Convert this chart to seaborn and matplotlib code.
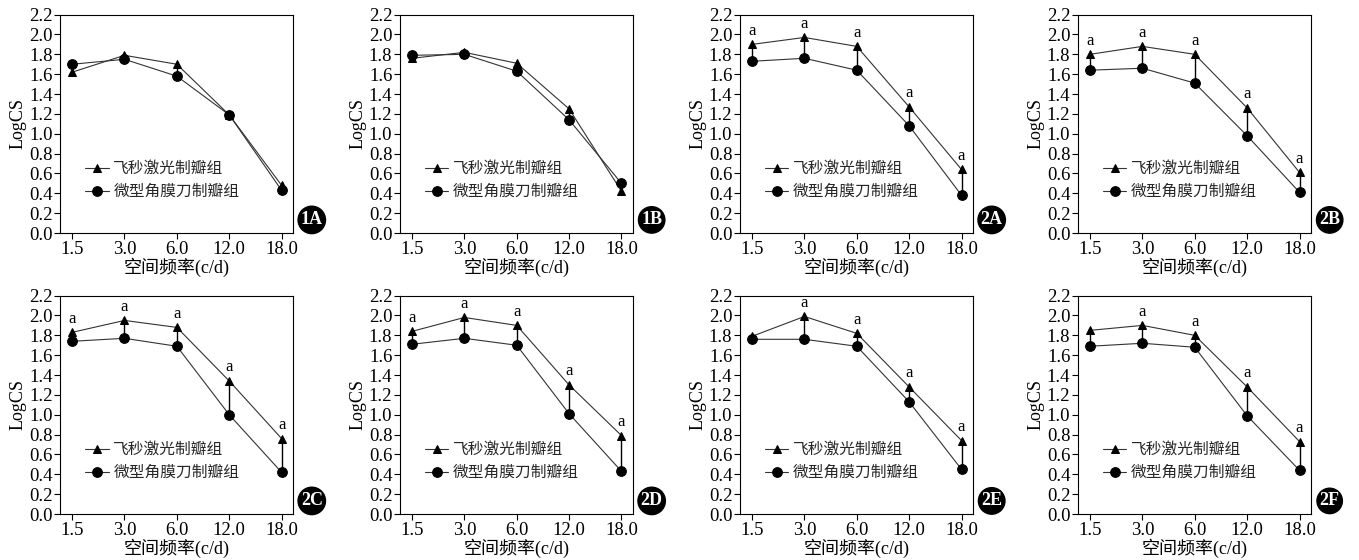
import numpy as np
import pandas as pd
import matplotlib
matplotlib.use("Agg")
import matplotlib.pyplot as plt
import seaborn as sns

sns.set_theme(style="white")
plt.rcParams['font.family'] = ['Liberation Serif', 'Noto Sans CJK SC', 'DejaVu Sans']
plt.rcParams['axes.unicode_minus'] = False

freqs = ["1.5", "3.0", "6.0", "12.0", "18.0"]
yticks = [0.0, 0.2, 0.4, 0.6, 0.8, 1.0, 1.2, 1.4, 1.6, 1.8, 2.0, 2.2]
series_names = ["飞秒激光制瓣组", "微型角膜刀制瓣组"]
panel_ids = ["1A", "1B", "2A", "2B", "2C", "2D", "2E", "2F"]

laser_1A = [1.62, 1.79, 1.70, 1.19, 0.48]
blade_1A = [1.70, 1.75, 1.58, 1.19, 0.43]
laser_1B = [1.76, 1.82, 1.71, 1.25, 0.42]
blade_1B = [1.79, 1.80, 1.63, 1.14, 0.50]
laser_2A = [1.90, 1.97, 1.88, 1.27, 0.64]
blade_2A = [1.73, 1.76, 1.64, 1.08, 0.38]
laser_2B = [1.80, 1.88, 1.80, 1.26, 0.61]
blade_2B = [1.64, 1.66, 1.51, 0.98, 0.41]
laser_2C = [1.83, 1.95, 1.88, 1.34, 0.76]
blade_2C = [1.74, 1.77, 1.69, 1.00, 0.42]
laser_2D = [1.84, 1.98, 1.90, 1.30, 0.79]
blade_2D = [1.71, 1.77, 1.70, 1.01, 0.43]
laser_2E = [1.79, 1.99, 1.82, 1.28, 0.74]
blade_2E = [1.76, 1.76, 1.69, 1.13, 0.45]
laser_2F = [1.85, 1.90, 1.80, 1.28, 0.73]
blade_2F = [1.69, 1.72, 1.68, 0.99, 0.44]

sig_1A = [False] * 5
sig_1B = [False] * 5
sig_2A = [True] * 5
sig_2B = [True] * 5
sig_2C = [True] * 5
sig_2D = [True] * 5
sig_2E = [False, True, True, True, True]
sig_2F = [False, True, True, True, True]

panels = {
    "1A": (laser_1A, blade_1A, sig_1A),
    "1B": (laser_1B, blade_1B, sig_1B),
    "2A": (laser_2A, blade_2A, sig_2A),
    "2B": (laser_2B, blade_2B, sig_2B),
    "2C": (laser_2C, blade_2C, sig_2C),
    "2D": (laser_2D, blade_2D, sig_2D),
    "2E": (laser_2E, blade_2E, sig_2E),
    "2F": (laser_2F, blade_2F, sig_2F),
}

fig = plt.figure(figsize=(13.59, 5.60), dpi=100)
lefts = [0.0442, 0.2943, 0.5445, 0.7932]
bottoms = [0.5839, 0.0821]
W, H = 0.1715, 0.390

line_col = "#333333"
for i, pid in enumerate(panel_ids):
    r, c = divmod(i, 4)
    ax = fig.add_axes([lefts[c], bottoms[r], W, H])
    laser, blade, sig = panels[pid]
    df = pd.DataFrame({
        "freq": freqs * 2,
        "val": laser + blade,
        "grp": [series_names[0]] * 5 + [series_names[1]] * 5,
    })
    pos = np.arange(len(freqs))
    ax.vlines(pos, blade, laser, color="black", lw=1.0, zorder=1)
    sns.lineplot(data=df, x="freq", y="val", hue="grp", style="grp",
                 markers={series_names[0]: "^", series_names[1]: "o"},
                 dashes=False, palette={series_names[0]: line_col, series_names[1]: line_col},
                 markersize=7, lw=0.8, ax=ax, sort=False,
                 markeredgecolor="black", markerfacecolor="black", zorder=3)
    for ln in ax.get_lines():
        if ln.get_marker() == "^":
            ln.set_markersize(5.5)
    for k, s in enumerate(sig):
        if s:
            ax.annotate("a", (k, laser[k]), xytext=(0, 4), textcoords="offset points",
                        ha="center", va="bottom", fontsize=12, color="black")
    ax.set_xlim(-0.23, 4.22)
    ax.set_ylim(0, 2.2)
    ax.set_yticks(yticks)
    ax.set_yticklabels([f"{t:.1f}" for t in yticks])
    ax.set_xticks(pos)
    ax.set_xticklabels(freqs)
    ax.tick_params(axis="both", direction="out", length=4, width=0.8, labelsize=13.5,
                   colors="black", pad=1.5, bottom=True, left=True)
    ax.set_xlabel("空间频率(c/d)", fontsize=13, labelpad=0, color="black")
    ax.set_ylabel("LogCS", fontsize=13, labelpad=2, color="black")
    for sp in ax.spines.values():
        sp.set_color("black")
        sp.set_linewidth(0.8)
    leg = ax.legend(loc="center left", bbox_to_anchor=(0.06, 0.24), frameon=False,
                    fontsize=11.3, handlelength=1.5, handletextpad=0.3, labelspacing=0.45,
                    borderpad=0.2)
    for h in leg.legend_handles:
        h.set_color(line_col)
        h.set_markerfacecolor("black")
        h.set_markeredgecolor("black")
    ax.text(1.08, 0.06, pid, transform=ax.transAxes, ha="center", va="center",
            fontsize=13, fontweight="bold", color="white",
            bbox=dict(boxstyle="circle,pad=0.15", fc="black", ec="black"))

fig.savefig("out.png", dpi=100)
